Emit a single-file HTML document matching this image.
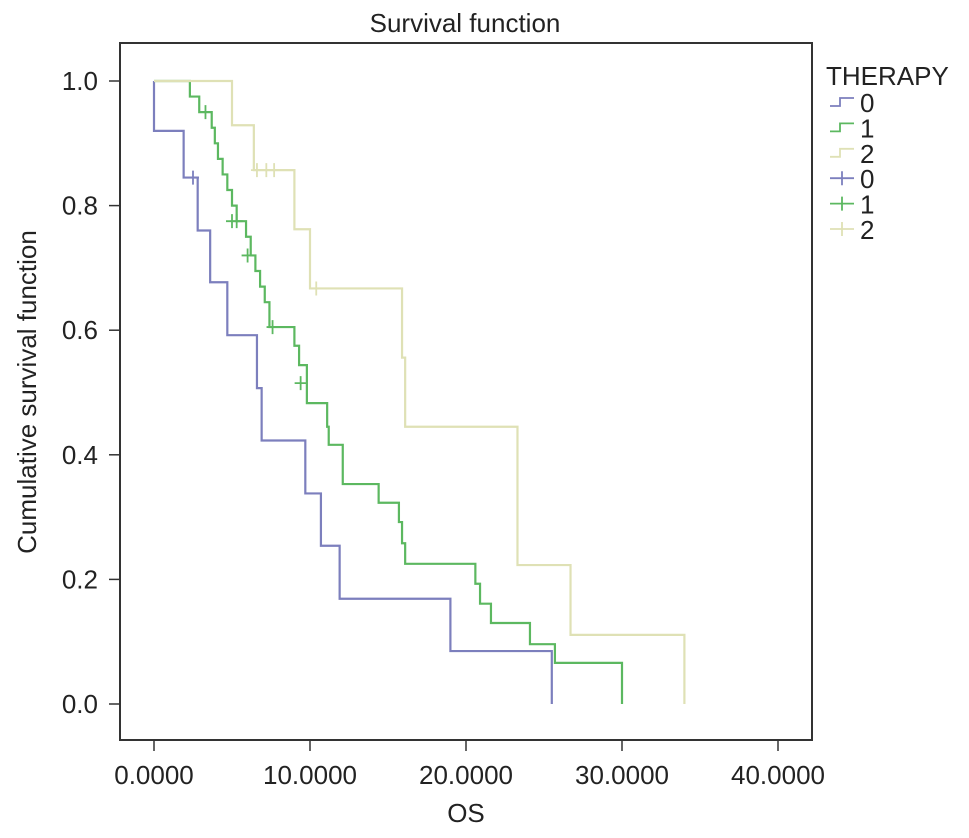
<!DOCTYPE html>
<html><head><meta charset="utf-8"><style>
body{margin:0;background:#fff;font-family:"Liberation Sans",sans-serif}
svg text{font-family:"Liberation Sans",sans-serif;fill:#222}
</style></head><body>
<svg id="c" width="969" height="833">
<text x="465" y="32" font-size="26" text-anchor="middle">Survival function</text>
<rect x="120" y="43" width="692" height="697" fill="none" stroke="#333" stroke-width="2"/>
<g id="axes"></g><g id="series"></g>
<text x="466" y="822" font-size="26" text-anchor="middle">OS</text>
<text transform="translate(36,392) rotate(-90)" font-size="26" text-anchor="middle">Cumulative survival function</text>
<g id="legend">
<text x="826" y="85" font-size="26">THERAPY</text>
</g>
</svg>
<script>
const xTicks=[0,10,20,30,40];
const yTicks=[0,0.2,0.4,0.6,0.8,1.0];
const times0=[0,1.9,2.8,3.6,4.7,6.6,6.9,9.7,10.7,11.9,19.0,25.5];
const surv0=[0.92,0.845,0.76,0.677,0.592,0.507,0.423,0.338,0.254,0.169,0.085,0];
const cens0T=[2.5];const cens0S=[0.845];
const times1=[2.3,2.9,3.7,3.9,4.1,4.4,4.7,5.0,5.3,5.9,6.2,6.5,6.8,7.1,7.4,9.0,9.3,9.8,11.1,11.2,12.1,14.4,15.7,15.9,16.1,16.6,20.6,20.9,21.6,24.1,25.7,30.0];
const surv1=[0.975,0.95,0.925,0.90,0.875,0.85,0.825,0.80,0.775,0.75,0.72,0.695,0.67,0.645,0.605,0.575,0.544,0.483,0.445,0.416,0.353,0.323,0.292,0.258,0.225,0.225,0.193,0.161,0.130,0.096,0.066,0];
const cens1T=[3.3,5.0,5.3,6.0,7.6,9.4];const cens1S=[0.95,0.775,0.775,0.72,0.605,0.515];
const times2=[5.0,6.4,9.0,10.0,15.9,16.1,23.3,26.7,34.0];
const surv2=[0.929,0.857,0.762,0.667,0.556,0.445,0.223,0.111,0];
const cens2T=[6.6,7.2,7.7,10.4];const cens2S=[0.857,0.857,0.857,0.667];
const colors=['#7c7fbd','#5cb860','#dfe1b5'];
const X=t=>154+15.6*t, Y=s=>704-623*s;
const NS='http://www.w3.org/2000/svg';
function mk(tag,at,parent){const e=document.createElementNS(NS,tag);for(const k in at)e.setAttribute(k,at[k]);parent.appendChild(e);return e;}
const ax=document.getElementById('axes');
xTicks.forEach(v=>{
 const l=mk('line',{x1:X(v),x2:X(v),y1:740,y2:751,stroke:'#333','stroke-width':1.5},ax);
 
 
 const t=mk('text',{x:X(v),y:784,'font-size':26,'text-anchor':'middle'},ax);t.textContent=v.toFixed(4);
 
 
});
yTicks.forEach(v=>{
 const l=mk('line',{x1:109,x2:120,y1:Y(v),y2:Y(v),stroke:'#333','stroke-width':1.5},ax);
 
 
 const t=mk('text',{x:98,y:Y(v)+9,'font-size':26,'text-anchor':'end'},ax);t.textContent=v.toFixed(1);
 
 
});
const sg=document.getElementById('series');
const sets=[[times0,surv0,cens0T,cens0S],[times1,surv1,cens1T,cens1S],[times2,surv2,cens2T,cens2S]];
sets.forEach((d,i)=>{
 let p='M'+X(0)+','+Y(1);
 d[0].forEach((t,j)=>{p+=' H'+X(t)+' V'+Y(d[1][j]);});
 const path=mk('path',{d:p,fill:'none',stroke:colors[i],'stroke-width':2.2},sg);
 
 
 d[2].forEach((t,j)=>{
  const c=mk('path',{d:`M${X(t)-6},${Y(d[3][j])} h12 M${X(t)},${Y(d[3][j])-7} v14`,stroke:colors[i],'stroke-width':1.8},sg);
  
  
 });
});
const lg=document.getElementById('legend');
const labels=['0','1','2','0','1','2'];
labels.forEach((lab,i)=>{
 const y=102+25.4*i, c=colors[i%3];
 const d=i<3?`M830,${y+4} h10 v-8 h14`:`M830,${y} h24 M842,${y-7} v14`;
 const ic=mk('path',{d:d,fill:'none',stroke:c,'stroke-width':1.8},lg);
 
 
 const t=mk('text',{x:860,y:y+10,'font-size':26},lg);t.textContent=lab;
 
 
});
</script>
</body></html>
